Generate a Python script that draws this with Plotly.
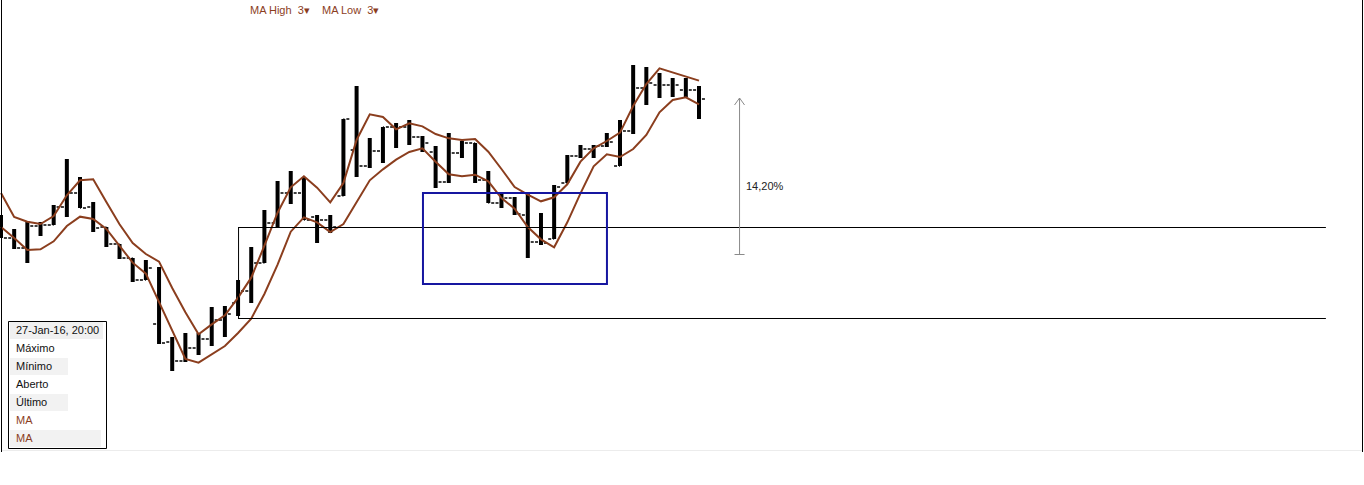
import plotly.graph_objects as go
import pandas as pd

# ---------------- data (prices) ----------------
bar_index = list(range(54))
opens = [11.27, 11.15, 11.05, 11.27, 11.28, 11.46, 11.60, 11.46, 11.26, 11.09,
         10.95, 10.73, 10.29, 10.11, 9.92, 10.05, 10.14, 10.33, 10.50, 10.62,
         10.90, 11.30, 11.60, 11.60, 11.36, 11.33, 11.57, 12.03, 11.87, 12.02,
         12.26, 12.26, 12.16, 12.01, 11.71, 12.00, 12.10, 11.73, 11.50, 11.55,
         11.38, 11.11, 11.14, 11.70, 11.97, 12.04, 12.07, 11.87, 12.22, 12.65,
         12.68, 12.68, 12.63, 12.63]
highs = [11.38, 11.24, 11.32, 11.31, 11.48, 11.94, 11.76, 11.51, 11.26, 11.09,
         10.95, 10.93, 10.86, 10.16, 10.20, 10.20, 10.46, 10.47, 10.73, 11.06,
         11.43, 11.72, 11.82, 11.76, 11.38, 11.38, 12.34, 12.67, 12.15, 12.26,
         12.30, 12.33, 12.17, 12.07, 12.20, 12.12, 12.10, 11.82, 11.60, 11.56,
         11.59, 11.40, 11.68, 11.98, 12.08, 12.08, 12.20, 12.33, 12.88, 12.86,
         12.80, 12.75, 12.75, 12.67]
lows = [11.15, 11.04, 10.90, 11.17, 11.28, 11.36, 11.45, 11.21, 11.06, 10.94,
        10.71, 10.73, 10.09, 9.82, 9.91, 9.98, 10.07, 10.16, 10.37, 10.50,
        10.90, 11.25, 11.49, 11.33, 11.10, 11.20, 11.57, 11.76, 11.85, 11.90,
        12.05, 12.08, 12.01, 11.65, 11.70, 11.95, 11.70, 11.50, 11.45, 11.38,
        10.95, 11.08, 11.14, 11.70, 11.95, 11.95, 12.06, 11.87, 12.19, 12.48,
        12.55, 12.56, 12.56, 12.34]
closes = [11.15, 11.05, 11.27, 11.28, 11.46, 11.60, 11.45, 11.25, 11.09, 10.95,
          10.73, 10.85, 10.10, 9.92, 10.05, 10.14, 10.33, 10.39, 10.62, 10.90,
          11.30, 11.60, 11.60, 11.33, 11.33, 11.26, 12.34, 11.87, 12.02, 12.26,
          12.26, 12.16, 12.10, 11.71, 12.00, 12.10, 11.73, 11.50, 11.55, 11.39,
          11.11, 11.10, 11.66, 11.97, 12.04, 12.07, 12.11, 12.22, 12.65, 12.70,
          12.68, 12.68, 12.63, 12.54]
# first two MA points (their earlier bars are off-screen)
ma_high_head = [11.60, 11.36]
ma_low_head = [11.26, 11.15]
ma_period = 3

legend_labels = ["MA High\u00a0\u00a03\u25BE", "MA Low\u00a0\u00a03\u25BE"]
info_rows = ["27-Jan-16, 20:00", "Máximo", "Mínimo", "Aberto", "Último", "MA", "MA"]
measure_label = "14,20%"

# levels drawn on the chart
zone_top, zone_bottom, zone_start, zone_end = 11.255, 10.345, 18.0, 100.6
box_x0, box_x1, box_y0, box_y1 = 32.04, 46.01, 10.69, 11.60
measure_x, measure_y0, measure_y1 = 56.04, 10.985, 12.55

# ---------------- derived series ----------------
ma_high = pd.Series(highs).rolling(ma_period).mean().tolist()
ma_low = pd.Series(lows).rolling(ma_period).mean().tolist()
ma_high[:2] = ma_high_head
ma_low[:2] = ma_low_head

W, H = 1364, 485
PX_PER_BAR = 13.17
Y_TOP = 13.53
Y_BOT = Y_TOP - H / 100.0
X_LEFT = -1 / PX_PER_BAR
X_RIGHT = (W - 1) / PX_PER_BAR

BROWN = "#8b3e1e"

fig = go.Figure()

# thick high-low bars
vx, vy = [], []
for i, h, l in zip(bar_index, highs, lows):
    vx += [i, i, None]
    vy += [h, l, None]
fig.add_trace(go.Scatter(x=vx, y=vy, mode="lines",
                         line=dict(color="black", width=4),
                         hoverinfo="skip", showlegend=False))

# open / close ticks
fig.add_trace(go.Ohlc(x=bar_index, open=opens, high=highs, low=lows, close=closes,
                      tickwidth=0.45,
                      increasing=dict(line=dict(color="black", width=1.4, dash="3px,2px")),
                      decreasing=dict(line=dict(color="black", width=1.4, dash="3px,2px")),
                      hoverinfo="skip", showlegend=False))

# moving averages
fig.add_trace(go.Scatter(x=bar_index, y=ma_high, mode="lines",
                         line=dict(color=BROWN, width=2), hoverinfo="skip",
                         showlegend=False))
fig.add_trace(go.Scatter(x=bar_index, y=ma_low, mode="lines",
                         line=dict(color=BROWN, width=2), hoverinfo="skip",
                         showlegend=False))

shapes = []
# zone lines
shapes.append(dict(type="line", xref="x", yref="y", x0=zone_start, x1=zone_end,
                   y0=zone_top, y1=zone_top, line=dict(color="black", width=1)))
shapes.append(dict(type="line", xref="x", yref="y", x0=zone_start, x1=zone_end,
                   y0=zone_bottom, y1=zone_bottom, line=dict(color="black", width=1)))
shapes.append(dict(type="line", xref="x", yref="y", x0=zone_start + 0.5 / PX_PER_BAR,
                   x1=zone_start + 0.5 / PX_PER_BAR,
                   y0=zone_bottom, y1=zone_top, line=dict(color="black", width=1)))
# blue box
shapes.append(dict(type="rect", xref="x", yref="y", x0=box_x0, x1=box_x1,
                   y0=box_y0, y1=box_y1, line=dict(color="#1616a0", width=2)))
# measure arrow
mx = measure_x + 0.5 / PX_PER_BAR
shapes.append(dict(type="line", xref="x", yref="y", x0=mx, x1=mx,
                   y0=measure_y0, y1=measure_y1, line=dict(color="#8a8a8a", width=1)))
shapes.append(dict(type="line", xref="x", yref="y", x0=mx - 0.38, x1=mx + 0.38,
                   y0=measure_y0, y1=measure_y0, line=dict(color="#8a8a8a", width=1)))
shapes.append(dict(type="path", xref="x", yref="y",
                   path=f"M {mx - 0.38} {measure_y1 - 0.07} L {mx} {measure_y1} L {mx + 0.38} {measure_y1 - 0.07}",
                   line=dict(color="#8a8a8a", width=1)))


# chart frame
def pxp(p):
    return p / W


def pyp(p):
    return 1 - p / H


shapes.append(dict(type="line", xref="paper", yref="paper", x0=pxp(1.5), x1=pxp(1.5),
                   y0=pyp(452), y1=1, line=dict(color="black", width=1)))
shapes.append(dict(type="line", xref="paper", yref="paper", x0=pxp(1362.5), x1=pxp(1362.5),
                   y0=pyp(452), y1=1, line=dict(color="black", width=1)))
shapes.append(dict(type="line", xref="paper", yref="paper", x0=pxp(2), x1=pxp(1362),
                   y0=pyp(450.5), y1=pyp(450.5), line=dict(color="#ececec", width=1)))

# info box
row_h = 18
box_top = 321
shapes.append(dict(type="rect", xref="paper", yref="paper", x0=pxp(10), x1=pxp(103),
                   y0=pyp(box_top + 1), y1=pyp(box_top + row_h), fillcolor="#f0f0f0",
                   line=dict(width=0), layer="below"))
for r, right in [(2, 68), (4, 68), (6, 101)]:
    shapes.append(dict(type="rect", xref="paper", yref="paper", x0=pxp(10), x1=pxp(right),
                       y0=pyp(box_top + 1 + r * row_h), y1=pyp(box_top + (r + 1) * row_h),
                       fillcolor="#f2f2f2", line=dict(width=0), layer="below"))
shapes.append(dict(type="rect", xref="paper", yref="paper", x0=pxp(8.5), x1=pxp(106.5),
                   y0=pyp(448.5), y1=pyp(box_top + 0.5), line=dict(color="black", width=1)))

annotations = []
for k, txt in enumerate(info_rows):
    annotations.append(dict(xref="paper", yref="paper", x=pxp(14), y=pyp(box_top + 9 + k * row_h),
                            text=txt, showarrow=False, xanchor="left", yanchor="middle",
                            font=dict(family="Liberation Sans, Arial", size=11,
                                      color=BROWN if txt == "MA" else "#111111")))
annotations.append(dict(xref="paper", yref="paper", x=pxp(248), y=pyp(10), text=legend_labels[0],
                        showarrow=False, xanchor="left", yanchor="middle",
                        font=dict(family="Liberation Sans, Arial", size=11, color=BROWN)))
annotations.append(dict(xref="paper", yref="paper", x=pxp(320), y=pyp(10), text=legend_labels[1],
                        showarrow=False, xanchor="left", yanchor="middle",
                        font=dict(family="Liberation Sans, Arial", size=11, color=BROWN)))
annotations.append(dict(xref="x", yref="y", x=measure_x + 0.35, y=(measure_y0 + measure_y1) / 2 - 0.10,
                        text=measure_label, showarrow=False, xanchor="left", yanchor="middle",
                        font=dict(family="Liberation Sans, Arial", size=11, color="#222222")))

fig.update_layout(
    width=W, height=H,
    margin=dict(l=0, r=0, t=0, b=0),
    paper_bgcolor="white", plot_bgcolor="white",
    showlegend=False,
    shapes=shapes,
    annotations=annotations,
    xaxis=dict(range=[X_LEFT, X_RIGHT], visible=False, showgrid=False, zeroline=False,
               rangeslider=dict(visible=False), fixedrange=True),
    yaxis=dict(range=[Y_BOT, Y_TOP], visible=False, showgrid=False, zeroline=False,
               fixedrange=True),
    hovermode=False,
)

fig.write_html("out.html", config={"displayModeBar": False},
               post_script="document.body.style.margin='0';document.body.style.overflow='hidden';")
